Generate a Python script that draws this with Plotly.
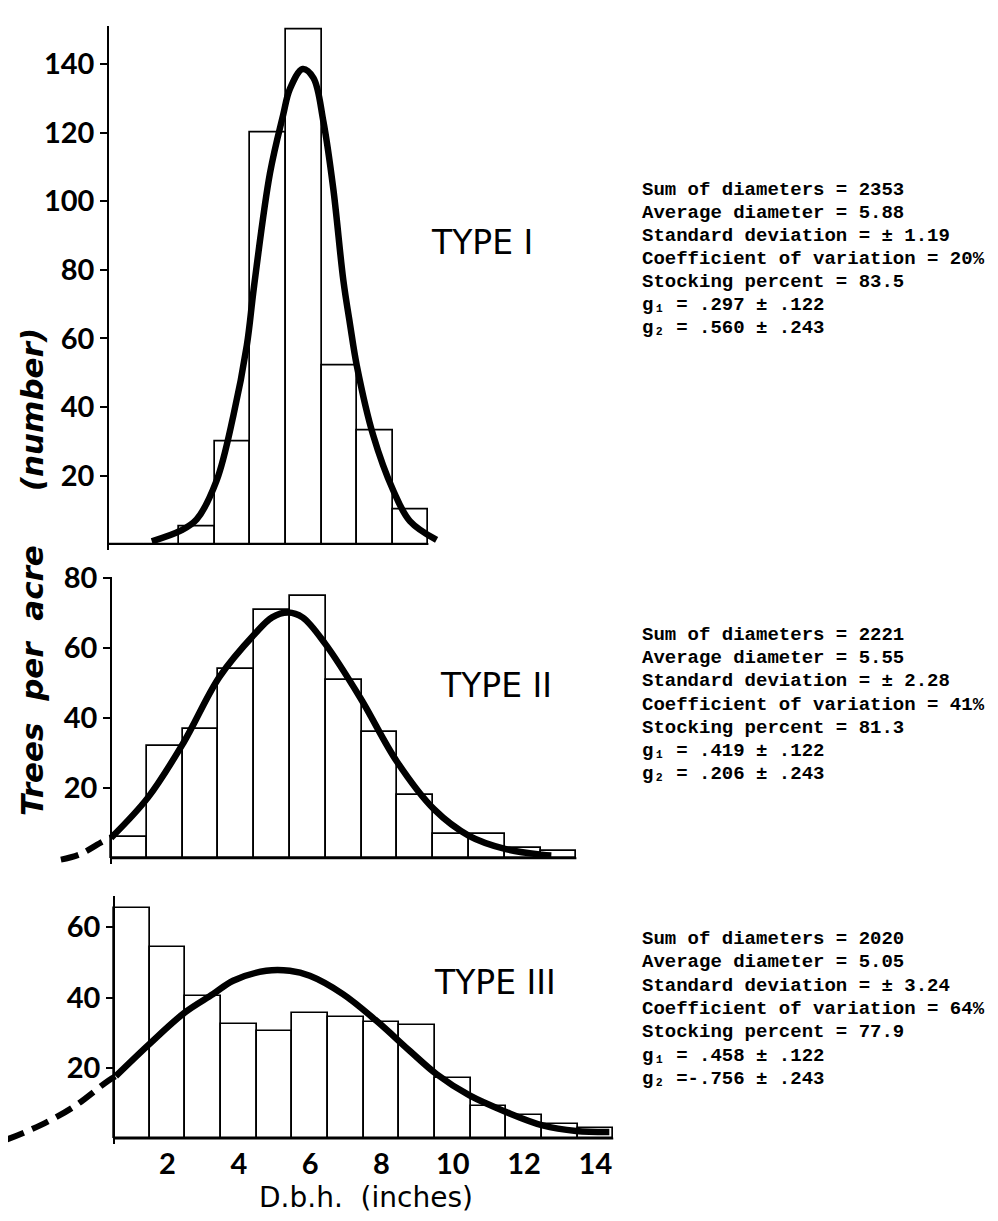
import plotly.graph_objects as go

W_REF, H_REF = 998, 1221
OFF = 8                      # default body margin of the html page
W, H = W_REF - 2 * OFF, H_REF - 2 * OFF

# ---------------- data ----------------
dbh_1 = [1, 2, 3, 4, 5, 6, 7, 8, 9]
trees_1 = [0, 0, 5, 30, 120, 150, 52, 33, 10]
curve_1_x = [1.73, 2.54, 2.99, 3.55, 4.02, 4.4, 4.6, 5.05, 5.42, 5.61, 5.97, 6.27, 6.55, 6.83, 7.11, 7.3, 7.49, 7.95, 8.51, 8.98, 9.73]
curve_1_y = [0.8, 3.9, 7.2, 18.5, 37.4, 58.0, 75.0, 108.2, 125.2, 132.8, 138.6, 136.0, 123.3, 103.5, 77.0, 64.0, 52.0, 31.7, 15.7, 6.7, 1.2]

dbh_2 = [1, 2, 3, 4, 5, 6, 7, 8, 9, 10, 11, 12, 13]
trees_2 = [6, 32, 37, 54, 71, 75, 51, 36, 18, 7, 7, 3, 2]
curve_2_x = [0.5, 1.53, 2.52, 3.53, 4.52, 5.0, 5.45, 5.85, 6.48, 7.47, 8.48, 9.52, 10.5, 11.53, 12.53, 12.8]
curve_2_y = [5.8, 17.3, 32.9, 51.8, 64.1, 68.8, 70.2, 68.8, 61.3, 45.7, 27.7, 14.0, 6.4, 2.6, 1.0, 0.8]
dash_2_x = [-0.9, -0.37, 0.28, 0.5]
dash_2_y = [-0.4, 1.1, 4.8, 5.8]

dbh_3 = [1, 2, 3, 4, 5, 6, 7, 8, 9, 10, 11, 12, 13, 14]
trees_3 = [65.5, 54.4, 40.5, 32.5, 30.4, 35.5, 34.6, 33.1, 32.2, 17.2, 9.3, 6.5, 4.2, 2.9]
curve_3_x = [0.55, 1.49, 2.49, 3.28, 3.84, 4.77, 5.43, 5.99, 6.92, 7.86, 8.79, 9.54, 10.47, 11.5, 12.52, 13.46, 14.39]
curve_3_y = [17.7, 26.8, 35.8, 41.0, 44.8, 47.6, 47.6, 46.2, 41.0, 33.4, 24.9, 18.3, 12.2, 7.5, 3.7, 2.1, 1.8]
dash_3_x = [-2.5, -1.57, -0.64, 0.34, 0.55]
dash_3_y = [-0.3, 3.7, 8.9, 16.4, 17.7]

yticks_1 = [20, 40, 60, 80, 100, 120, 140]
yticks_2 = [20, 40, 60, 80]
yticks_3 = [20, 40, 60]
xticks = [2, 4, 6, 8, 10, 12, 14]

type_labels = ["TYPE I", "TYPE II", "TYPE III"]

stats_1 = ["Sum of diameters = 2353", "Average diameter = 5.88", "Standard deviation = ± 1.19",
           "Coefficient of variation = 20%", "Stocking percent = 83.5",
           "g₁ = .297 ± .122", "g₂ = .560 ± .243"]
stats_2 = ["Sum of diameters = 2221", "Average diameter = 5.55", "Standard deviation = ± 2.28",
           "Coefficient of variation = 41%", "Stocking percent = 81.3",
           "g₁ = .419 ± .122", "g₂ = .206 ± .243"]
stats_3 = ["Sum of diameters = 2020", "Average diameter = 5.05", "Standard deviation = ± 3.24",
           "Coefficient of variation = 64%", "Stocking percent = 77.9",
           "g₁ = .458 ± .122", "g₂ =-.756 ± .243"]

# ---------------- layout geometry (reference pixels) ----------------
panels = [
    dict(axis_px=108, ppi=35.6, zero_px=542, ppu=3.53, top=9, bottom=548),
    dict(axis_px=111, ppi=35.8, zero_px=857, ppu=3.51, top=575, bottom=863),
    dict(axis_px=114, ppi=35.66, zero_px=1138, ppu=3.53, top=895, bottom=1144),
]
LEFT, RIGHT = OFF, 640

# vertical calibration (observed placement vs. requested placement)
CAL_A, CAL_B = 14.6, 0.9878
T_MIN = OFF + 0.5


def fx(px):
    return (px - OFF) / W


def tpos(py):
    return max((py - CAL_A) / CAL_B, T_MIN)


def fy_t(t):
    return 1 - (t - OFF) / H


def fy(py):
    return fy_t(tpos(py))


fig = go.Figure()

tick_font = dict(family="Lato", size=29, color="black", weight="bold")


def add_panel(i, dbh, trees, cx, cy, dx=None, dy=None, yticks=None, show_x=False):
    p = panels[i]
    xa = "x" if i == 0 else f"x{i+1}"
    ya = "y" if i == 0 else f"y{i+1}"
    fig.add_trace(go.Bar(x=dbh, y=trees, width=1.0, xaxis=xa, yaxis=ya,
                         marker=dict(color="white", line=dict(color="black", width=1.7)),
                         hoverinfo="skip"))
    fig.add_trace(go.Scatter(x=[dbh[0] - 0.5, dbh[-1] + 0.5], y=[0, 0], mode="lines",
                             xaxis=xa, yaxis=ya, line=dict(color="black", width=2)))
    if dx is not None:
        fig.add_trace(go.Scatter(x=dx, y=dy, mode="lines", xaxis=xa, yaxis=ya,
                                 line=dict(color="black", width=6, dash="18px,9px", shape="spline")))
    fig.add_trace(go.Scatter(x=cx, y=cy, mode="lines", xaxis=xa, yaxis=ya,
                             line=dict(color="black", width=6.5, shape="spline", smoothing=1.0)))
    xmin = 0.5 - (p["axis_px"] - LEFT) / p["ppi"]
    xmax = 0.5 + (RIGHT - p["axis_px"]) / p["ppi"]
    # vertical mapping in page space
    t_zero = tpos(p["zero_px"])
    t_top = tpos(p["top"])
    t_bot = tpos(p["bottom"])
    t_ppu = p["ppu"] / CAL_B
    top_val = (p["zero_px"] - p["top"]) / p["ppu"]
    if t_zero - top_val * t_ppu < t_top:          # keep the full axis on the page
        t_ppu = (t_zero - t_top) / top_val
    ymax = (t_zero - t_top) / t_ppu
    ymin = -(t_bot - t_zero) / t_ppu
    xkey = "xaxis" if i == 0 else f"xaxis{i+1}"
    ykey = "yaxis" if i == 0 else f"yaxis{i+1}"
    fig.layout[xkey] = dict(domain=[fx(LEFT), fx(RIGHT)], range=[xmin, xmax], anchor=ya,
                            showgrid=False, zeroline=False, showline=False,
                            showticklabels=show_x, tickvals=xticks if show_x else None,
                            ticks="", tickfont=tick_font)
    fig.layout[ykey] = dict(domain=[fy_t(t_bot), fy_t(t_top)], range=[ymin, ymax],
                            anchor="free", position=fx(p["axis_px"]),
                            showgrid=False, zeroline=False, showline=True, linecolor="black",
                            linewidth=1.7, tickvals=yticks, ticks="outside", ticklen=7,
                            tickwidth=1.7, tickcolor="black", tickfont=tick_font)


add_panel(0, dbh_1, trees_1, curve_1_x, curve_1_y, yticks=yticks_1)
add_panel(1, dbh_2, trees_2, curve_2_x, curve_2_y, dash_2_x, dash_2_y, yticks=yticks_2)
add_panel(2, dbh_3, trees_3, curve_3_x, curve_3_y, dash_3_x, dash_3_y, yticks=yticks_3, show_x=True)

annotations = []


def ann(text, px, py, size, family="DejaVu Sans", xanchor="center", angle=0, italic=False, weight="normal"):
    annotations.append(dict(text=text, x=fx(px), y=fy(py), xref="paper", yref="paper",
                            xanchor=xanchor, yanchor="middle", showarrow=False, textangle=angle,
                            font=dict(family=family, size=size, color="black",
                                      style="italic" if italic else "normal", weight=weight)))


ann(type_labels[0], 482, 240, 33)
ann(type_labels[1], 496, 684, 33)
ann(type_labels[2], 495, 982, 33)
ann("D.b.h.  (inches)", 366, 1197, 28)
ann("Trees  per  acre     (number)", 32, 570, 31, angle=-90, italic=True, weight="bold")

block_tops = [187, 633, 938]
spacing = [23.0, 23.3, 23.4]
for blk, lines in enumerate([stats_1, stats_2, stats_3]):
    for j, line in enumerate(lines):
        ann(line, 640, block_tops[blk] + j * spacing[blk], 19, family="Liberation Mono",
            xanchor="left", weight="bold")

fig.update_layout(width=W, height=H, margin=dict(l=0, r=0, t=0, b=0),
                  paper_bgcolor="white", plot_bgcolor="rgba(0,0,0,0)",
                  showlegend=False, bargap=0, annotations=annotations)

fig.write_html("out.html")
